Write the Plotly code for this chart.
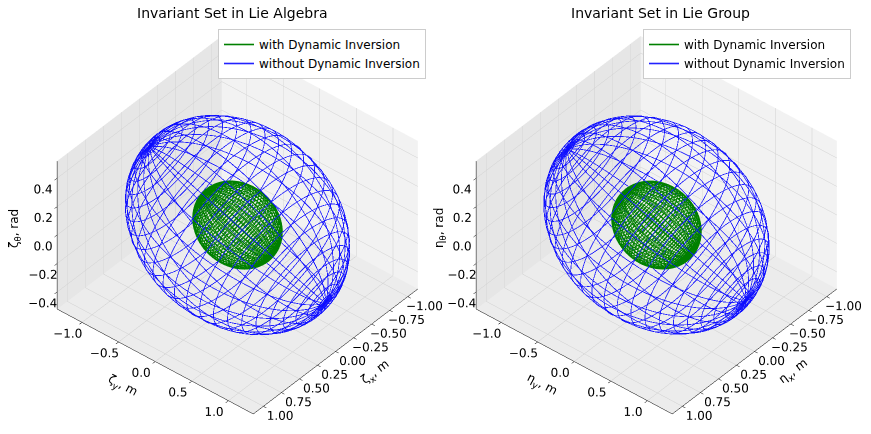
import numpy as np
import plotly.graph_objects as go

# ---- data: ellipsoid shape matrices (covariance form) ----
algebra_blue_cov = [[0.99, -0.0125, -0.006],
                    [-0.0125, 1.37, -0.249],
                    [-0.006, -0.249, 0.206]]
algebra_green_cov = [[0.17, 0.0, 0.0],
                     [0.0, 0.21, -0.0365],
                     [0.0, -0.0365, 0.035]]
group_blue_cov = [[1.00, -0.02, 0.0],
                  [-0.02, 1.36, -0.24],
                  [0.0, -0.24, 0.21]]
group_green_cov = [[0.17, 0.0, 0.0],
                   [0.0, 0.21, -0.034],
                   [0.0, -0.034, 0.036]]

x_ticks = [-1.0, -0.75, -0.5, -0.25, 0.0, 0.25, 0.5, 0.75, 1.0]
x_ticktext = ["−1.00", "−0.75", "−0.50", "−0.25", "0.00", "0.25", "0.50", "0.75", "1.00"]
y_ticks = [-1.0, -0.5, 0.0, 0.5, 1.0]
y_ticktext = ["−1.0", "−0.5", "0.0", "0.5", "1.0"]
z_ticks = [-0.4, -0.2, 0.0, 0.2, 0.4]
z_ticktext = ["−0.4", "−0.2", "0.0", "0.2", "0.4"]

x_range = [-1.14, 1.14]
y_range = [-1.34, 1.34]
z_range = [-0.52, 0.52]

titles = ["Invariant Set in Lie Algebra", "Invariant Set in Lie Group"]
axis_titles = [("ζ<sub>x</sub>, m", "ζ<sub>y</sub>, m", "ζ<sub>θ</sub>, rad"),
               ("η<sub>x</sub>, m", "η<sub>y</sub>, m", "η<sub>θ</sub>, rad")]
legend_labels = ["with Dynamic Inversion", "without Dynamic Inversion"]

N_PTS = 100


def wireframe(cov, stride):
    cov = np.asarray(cov, dtype=float)
    lam, vec = np.linalg.eigh(cov)
    radii = np.sqrt(lam)
    u = np.linspace(0, 2 * np.pi, N_PTS)
    v = np.linspace(0, np.pi, N_PTS)
    X = radii[0] * np.outer(np.cos(u), np.sin(v))
    Y = radii[1] * np.outer(np.sin(u), np.sin(v))
    Z = radii[2] * np.outer(np.ones_like(u), np.cos(v))
    P = np.stack([X, Y, Z], axis=-1) @ vec.T
    idx = list(range(0, N_PTS, stride))
    if idx[-1] != N_PTS - 1:
        idx.append(N_PTS - 1)
    xs, ys, zs = [], [], []
    for i in idx:
        seg = P[i, :, :]
        xs += list(seg[:, 0]) + [None]
        ys += list(seg[:, 1]) + [None]
        zs += list(seg[:, 2]) + [None]
    for j in idx:
        seg = P[:, j, :]
        xs += list(seg[:, 0]) + [None]
        ys += list(seg[:, 1]) + [None]
        zs += list(seg[:, 2]) + [None]
    return xs, ys, zs


fig = go.Figure()
sets = [(algebra_green_cov, algebra_blue_cov), (group_green_cov, group_blue_cov)]
for k, (gcov, bcov) in enumerate(sets):
    scene = "scene" if k == 0 else "scene2"
    legend = "legend" if k == 0 else "legend2"
    gx, gy, gz = wireframe(gcov, 2)
    bx, by, bz = wireframe(bcov, 4)
    fig.add_trace(go.Scatter3d(x=gx, y=gy, z=gz, mode="lines",
                               line=dict(color="#008000", width=1.6),
                               name=legend_labels[0], scene=scene, legend=legend,
                               hoverinfo="skip"))
    fig.add_trace(go.Scatter3d(x=bx, y=by, z=bz, mode="lines",
                               line=dict(color="rgba(10,10,255,0.9)", width=1.6),
                               name=legend_labels[1], scene=scene, legend=legend,
                               hoverinfo="skip"))

FONT = "DejaVu Sans"


def axis(title, tv, tt, rng, bg):
    return dict(title=dict(text=title, font=dict(family=FONT, size=12, color="black")),
                range=rng, autorange=False, tickvals=tv, ticktext=tt,
                tickfont=dict(family=FONT, size=12, color="black"), tickangle=0,
                backgroundcolor=bg, showbackground=True,
                gridcolor="#d0d0d0", gridwidth=1,
                showline=True, linecolor="black", linewidth=1,
                ticks="outside", tickcolor="black", ticklen=4,
                zeroline=False, showspikes=False)


elev = np.radians(39.6)
azim = np.radians(40.0)
dist = 1.9
shift_z = 0.048
eye = dict(x=dist * np.cos(elev) * np.cos(azim),
           y=dist * np.cos(elev) * np.sin(azim),
           z=dist * np.sin(elev) + shift_z)
SCALE = 1.18

domains = [[0.02, 0.526], [0.508, 1.0]]
for k in range(2):
    xt, yt, zt = axis_titles[k]
    sc = dict(domain=dict(x=domains[k], y=[0.0, 1.0]),
              xaxis=axis(xt, x_ticks, x_ticktext, x_range, "#f2f2f2"),
              yaxis=axis(yt, y_ticks, y_ticktext, y_range, "#e6e6e6"),
              zaxis=axis("", z_ticks, z_ticktext, z_range, "#ececec"),
              aspectmode="manual",
              aspectratio=dict(x=SCALE, y=SCALE, z=0.75 * SCALE),
              camera=dict(eye=eye, up=dict(x=0, y=0, z=1),
                          center=dict(x=0, y=0, z=shift_z),
                          projection=dict(type="orthographic")))
    fig.update_layout(**{("scene" if k == 0 else "scene2"): sc})

legend_common = dict(bgcolor="white", bordercolor="#cccccc", borderwidth=1,
                     font=dict(family=FONT, size=12, color="black"),
                     xanchor="right", yanchor="top", itemwidth=30,
                     tracegroupgap=0)
fig.update_layout(
    legend=dict(x=426 / 871, y=1 - 29 / 434, **legend_common),
    legend2=dict(x=851 / 871, y=1 - 29 / 434, **legend_common),
)

ann_x = [232 / 871, 660 / 871]
ztitle_x = [15 / 871, 440 / 871]
for k in range(2):
    fig.add_annotation(text=titles[k], x=ann_x[k], y=1 - 13 / 434, xref="paper", yref="paper",
                       xanchor="center", yanchor="middle", showarrow=False,
                       font=dict(family=FONT, size=14, color="black"))
    fig.add_annotation(text=axis_titles[k][2], x=ztitle_x[k], y=1 - 228 / 434,
                       xref="paper", yref="paper", xanchor="center", yanchor="middle",
                       showarrow=False, textangle=-90,
                       font=dict(family=FONT, size=12, color="black"))

fig.update_layout(width=871, height=434, margin=dict(l=0, r=0, t=0, b=0),
                  paper_bgcolor="white", font=dict(family=FONT, color="black"),
                  showlegend=True)

fig.write_html("out.html", config={"displayModeBar": False},
               post_script="document.body.style.margin='0px';")
